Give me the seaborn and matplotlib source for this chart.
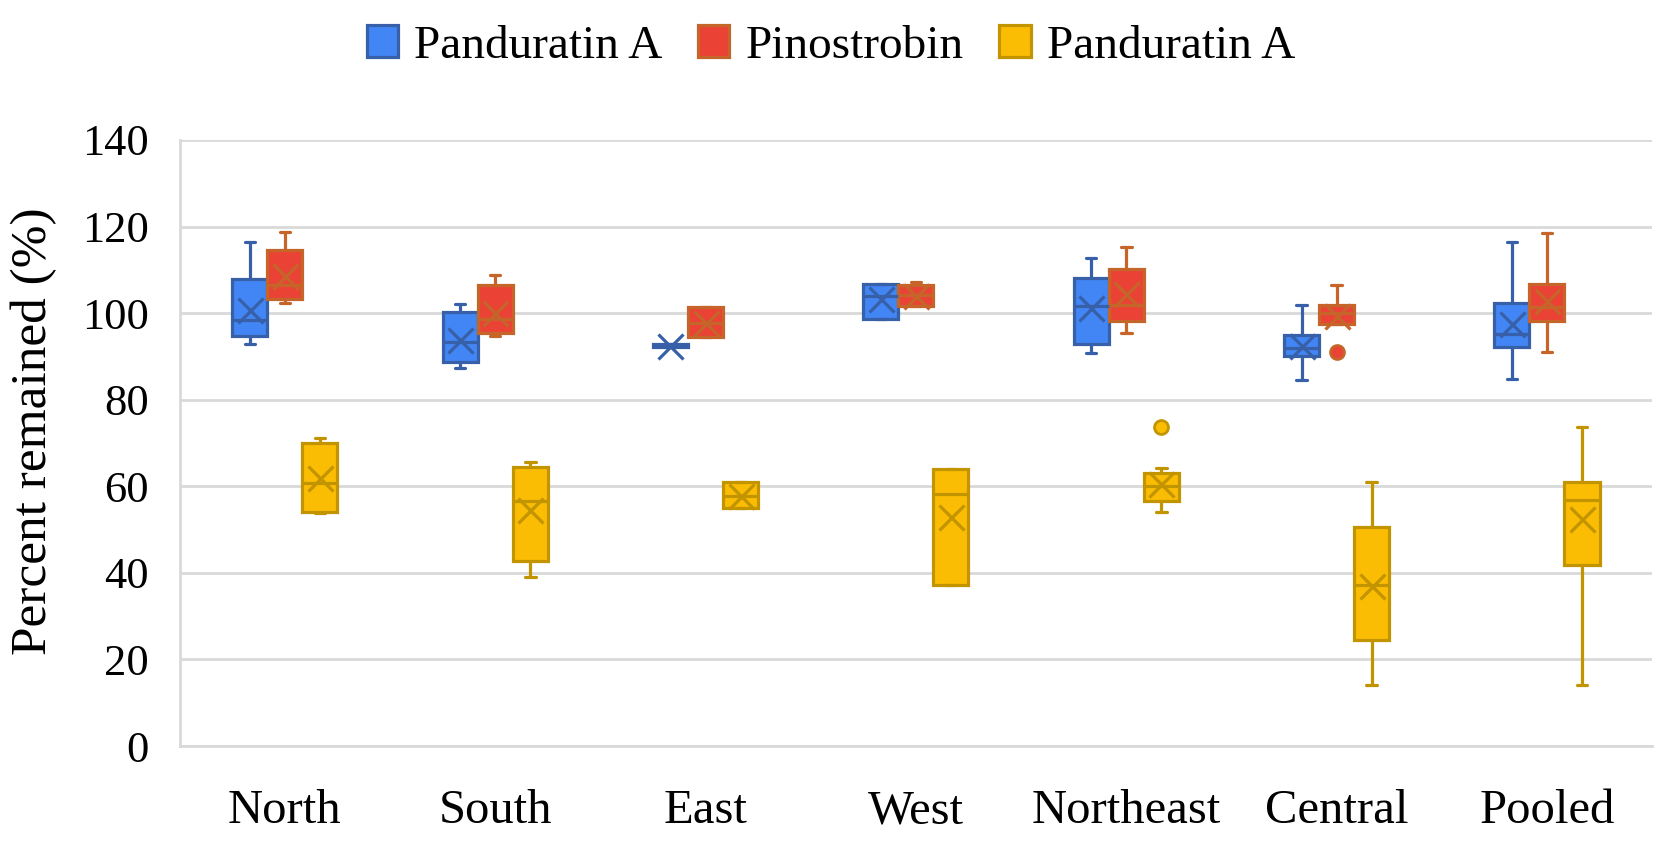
import pandas as pd
import matplotlib.pyplot as plt
import seaborn as sns
from matplotlib.patches import Patch

# Categories and series
regions = ['North', 'South', 'East', 'West', 'Northeast', 'Central', 'Pooled']
series_keys = ['Panduratin A (1)', 'Pinostrobin', 'Panduratin A (2)']
legend_labels = ['Panduratin A', 'Pinostrobin', 'Panduratin A']

# five-number summaries per region: (lower whisker, Q1, median, Q3, upper whisker)
panduratin_a_1 = [
    (92.9, 94.6, 98.5, 107.8, 116.4),
    (87.3, 88.6, 93.4, 100.2, 102.1),
    (92.2, 92.2, 92.5, 92.9, 92.9),
    (98.7, 98.7, 104.0, 106.8, 106.8),
    (90.9, 92.8, 101.7, 108.2, 112.8),
    (84.6, 90.0, 91.9, 95.0, 101.9),
    (84.8, 92.1, 95.2, 102.3, 116.4),
]
pinostrobin = [
    (102.4, 103.3, 106.5, 114.5, 118.7),
    (94.6, 95.4, 98.6, 106.5, 108.8),
    (94.5, 94.5, 97.8, 101.3, 101.3),
    (101.6, 101.6, 104.2, 106.5, 107.2),
    (95.5, 98.1, 101.9, 110.2, 115.2),
    (97.6, 97.6, 100.0, 101.8, 106.5),
    (91.1, 98.2, 101.3, 106.8, 118.6),
]
panduratin_a_2 = [
    (53.8, 54.1, 60.8, 70.0, 71.1),
    (39.1, 42.8, 56.7, 64.4, 65.6),
    (55.0, 55.0, 57.8, 60.9, 60.9),
    (37.1, 37.1, 58.2, 64.1, 64.1),
    (54.0, 56.7, 60.0, 63.0, 64.2),
    (14.2, 24.6, 37.3, 50.7, 61.0),
    (14.0, 41.9, 56.9, 61.0, 73.6),
]

# means (the X markers)
mean_pan_a_1 = [100.8, 93.8, 92.5, 103.3, 101.2, 92.5, 97.4]
mean_pino = [108.5, 100.0, 97.8, 104.0, 104.4, 99.3, 102.7]
mean_pan_a_2 = [61.9, 54.6, 57.8, 53.0, 60.6, 36.9, 52.4]

# outliers
outlier_region = ['Central', 'Northeast']
outlier_series = ['Pinostrobin', 'Panduratin A (2)']
outlier_value = [91.1, 73.6]

face_colors = ['#4285F4', '#EA4335', '#FBBC04']
edge_colors = ['#3760A8', '#C5652A', '#C29400']

summaries = [panduratin_a_1, pinostrobin, panduratin_a_2]

box_rows = []
for key, summ in zip(series_keys, summaries):
    for reg, vals in zip(regions, summ):
        for v in vals:
            box_rows.append({'region': reg, 'series': key, 'value': v})
box_df = pd.DataFrame(box_rows)

mean_df = pd.DataFrame({
    'region': regions * 3,
    'series': [k for k in series_keys for _ in regions],
    'value': mean_pan_a_1 + mean_pino + mean_pan_a_2,
})
out_df = pd.DataFrame({'region': outlier_region, 'series': outlier_series, 'value': outlier_value})

sns.set_theme(style='whitegrid')
plt.rcParams['font.family'] = ['Liberation Serif', 'DejaVu Serif']
plt.rcParams['text.color'] = 'black'
plt.rcParams['axes.labelcolor'] = 'black'
plt.rcParams['xtick.color'] = 'black'
plt.rcParams['ytick.color'] = 'black'

fig = plt.figure(figsize=(16.79, 8.43), dpi=100)
ax = fig.add_axes([0.107, 0.115, 0.877, 0.719])

box_width = 0.5
for key, fc, ec in zip(series_keys, face_colors, edge_colors):
    sns.boxplot(data=box_df[box_df['series'] == key], x='region', y='value', hue='series',
                order=regions, hue_order=series_keys, palette=dict(zip(series_keys, face_colors)),
                dodge=True, width=box_width, gap=0, whis=(0, 100), saturation=1,
                linecolor=ec, linewidth=2.3, capwidths=0.05, legend=False, ax=ax)

sns.pointplot(data=mean_df, x='region', y='value', hue='series', order=regions,
              hue_order=series_keys, palette=dict(zip(series_keys, edge_colors)),
              dodge=box_width * 2 / 3, markers='x', linestyle='none', errorbar=None,
              markersize=18, markeredgewidth=2.3, legend=False, ax=ax)

for key, fc, ec in zip(series_keys, face_colors, edge_colors):
    sub = out_df[out_df['series'] == key]
    if sub.empty:
        continue
    sns.pointplot(data=sub, x='region', y='value', hue='series', order=regions,
                  hue_order=series_keys, palette=dict(zip(series_keys, face_colors)),
                  dodge=box_width * 2 / 3, markers='o', linestyle='none', errorbar=None,
                  markersize=10, markeredgewidth=2, markeredgecolor=ec, legend=False, ax=ax)

ax.set_xlim(-0.5, len(regions) - 0.5)
ax.set_ylim(0, 140)
ax.set_yticks(range(0, 141, 20))
ax.set_xlabel('')
ax.set_ylabel('Percent remained (%)', fontsize=37)
ax.yaxis.set_label_coords(-0.083, 0.52)
ax.tick_params(axis='y', labelsize=32, length=0, pad=22)
ax.tick_params(axis='x', labelsize=35, length=0, pad=31)
ax.xaxis.grid(False)
ax.yaxis.grid(True, color='#D9D9D9', linewidth=2)
for side in ['top', 'right']:
    ax.spines[side].set_visible(False)
for side in ['left', 'bottom']:
    ax.spines[side].set_color('#D9D9D9')
    ax.spines[side].set_linewidth(2)

handles = [Patch(facecolor=fc, edgecolor=ec, linewidth=2.3) for fc, ec in zip(face_colors, edge_colors)]
fig.legend(handles, legend_labels, loc='center', bbox_to_anchor=(0.495, 0.945), ncol=3,
           frameon=False, fontsize=34, handlelength=0.66, handleheight=0.66,
           handletextpad=0.35, columnspacing=0.75)

fig.savefig('out.png', dpi=100)
